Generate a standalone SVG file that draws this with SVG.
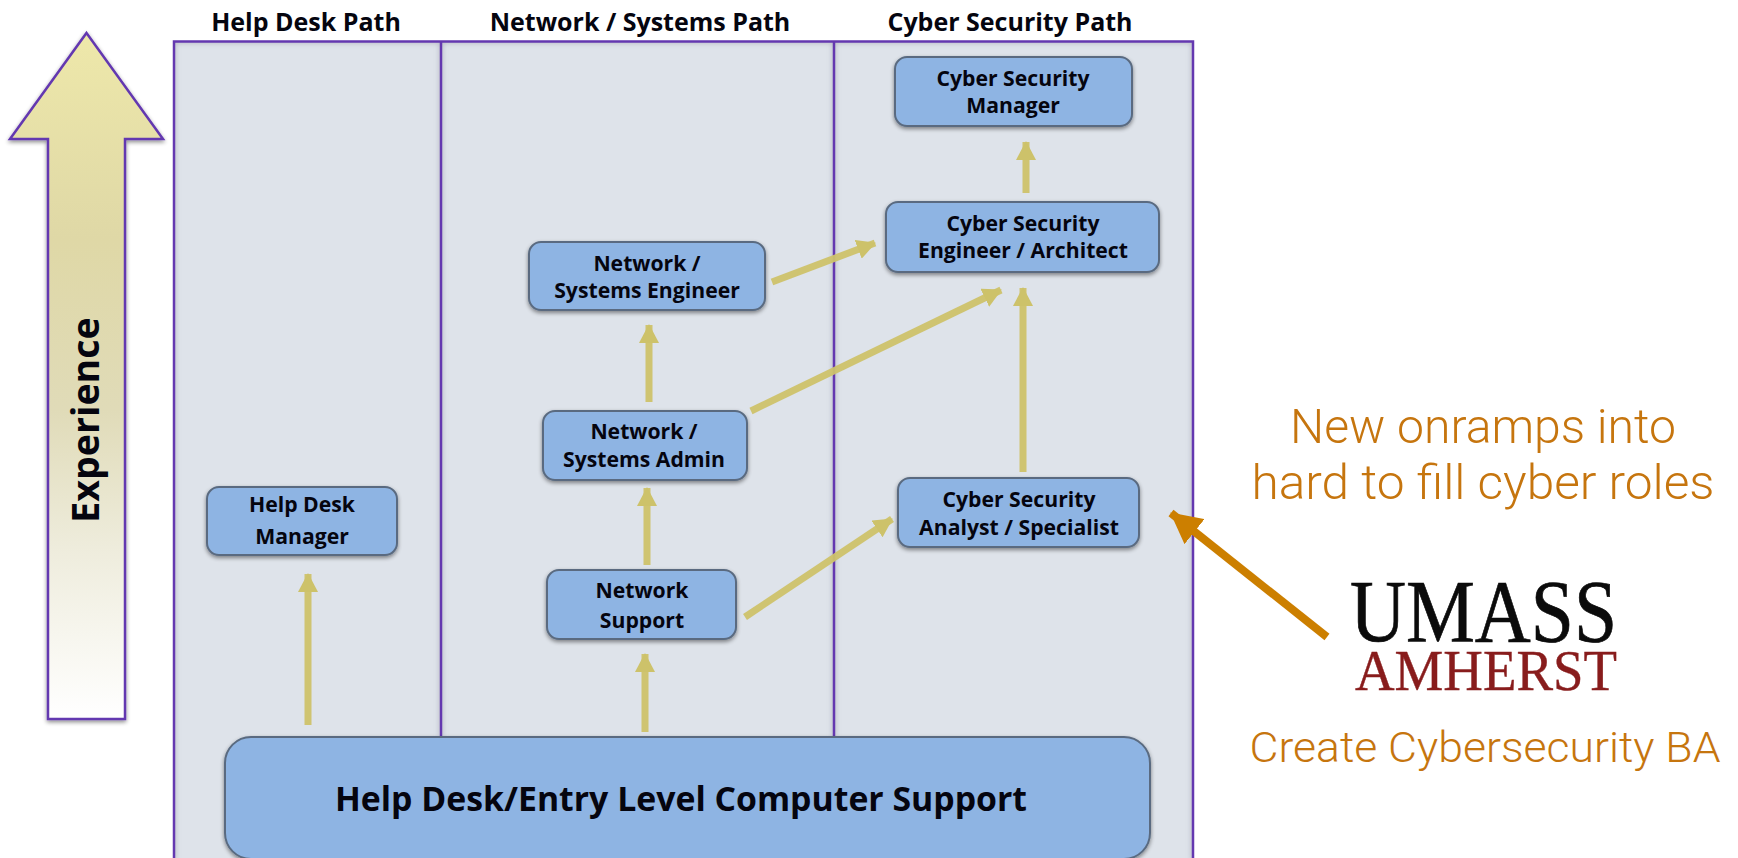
<svg xmlns="http://www.w3.org/2000/svg" width="1738" height="858" viewBox="0 0 1738 858">
<defs>
<linearGradient id="exp" x1="0" y1="0" x2="0" y2="1"><stop offset="0" stop-color="#eee8aa"/><stop offset="0.3" stop-color="#dfd8a6"/><stop offset="0.55" stop-color="#e0dbb8"/><stop offset="0.75" stop-color="#eeecdc"/><stop offset="1" stop-color="#ffffff"/></linearGradient>
<filter id="sh" x="-10%" y="-10%" width="120%" height="125%"><feGaussianBlur in="SourceAlpha" stdDeviation="2"/><feOffset dy="2"/><feComponentTransfer><feFuncA type="linear" slope="0.45"/></feComponentTransfer><feMerge><feMergeNode/><feMergeNode in="SourceGraphic"/></feMerge></filter>
<filter id="bl" x="-5%" y="-5%" width="110%" height="110%"><feGaussianBlur stdDeviation="2.500"/></filter>
<clipPath id="pc"><rect x="174" y="41" width="1019" height="830"/></clipPath>
<marker id="ah" markerUnits="userSpaceOnUse" markerWidth="20" markerHeight="20" refX="18" refY="10" orient="auto"><path d="M0 0L19 10L0 20Z" fill="#cdc26a"/></marker>
<marker id="oh" markerUnits="userSpaceOnUse" markerWidth="32" markerHeight="32" refX="30" refY="16" orient="auto"><path d="M0 0L31 16L0 32Z" fill="#cc7f00"/></marker>
<style>
.n{fill:#8eb4e3;stroke:#5a6b80;stroke-width:2;filter:url(#sh)}
.t{font-family:"Open Sans","Noto Sans",sans-serif;font-weight:700;font-size:21.2px;text-anchor:middle;fill:#05050f}
.h{font-size:25px}
.c{fill:none;stroke:#cdc26a;stroke-width:7;marker-end:url(#ah);stroke-opacity:.95}
.o{font-family:Roboto,"Liberation Sans",sans-serif;font-weight:300;font-size:48px;text-anchor:middle;fill:#c6750e}
.d{stroke:#6438b0;stroke-width:2.500;fill:none}
</style>
</defs>
<g id="panel">
<rect x="174" y="41" width="1019" height="830" fill="#dee3ea"/>
<g clip-path="url(#pc)"><path d="M174 860V41.500H1193V860M441 41.500V737M834 41.500V737" fill="none" stroke="#8a8a9a" stroke-width="3" stroke-opacity=".6" filter="url(#bl)"/></g>
<path class="d" d="M174 860V41.500H1193V860M441 41.500V737M834 41.500V737"/>
</g>
<g id="experience">
<path d="M86.500 33L163 139H125V719H48V139H10Z" fill="url(#exp)" stroke="#6438b0" stroke-width="2.500" filter="url(#sh)"/>
<text class="t" transform="translate(99,420) rotate(-90)" style="font-size:37.500px">Experience</text>
</g>
<g id="headers">
<text class="t h" x="306" y="31">Help Desk Path</text>
<text class="t h" x="640" y="31">Network / Systems Path</text>
<text class="t h" x="1010" y="31">Cyber Security Path</text>
</g>
<g id="connectors">
<path class="c" d="M308 725V574"/>
<path class="c" d="M645 732V654"/>
<path class="c" d="M647 565V488"/>
<path class="c" d="M649 402V325"/>
<path class="c" d="M772 282L875 243"/>
<path class="c" d="M751 411L1001 290"/>
<path class="c" d="M745 617L892 519"/>
<path class="c" d="M1023 472L1023 288"/>
<path class="c" d="M1026 193V142"/>
<path d="M1327 637L1171 513" fill="none" stroke="#cc7f00" stroke-width="8" marker-end="url(#oh)"/>
</g>
<g id="node-cs-manager"><rect class="n" x="895" y="57" width="237" height="69" rx="12"/><text class="t" x="1013" y="86">Cyber Security</text><text class="t" x="1013" y="113">Manager</text></g>
<g id="node-cs-engineer"><rect class="n" x="886" y="202" width="273" height="70" rx="12"/><text class="t" x="1023" y="231">Cyber Security</text><text class="t" x="1023" y="258">Engineer / Architect</text></g>
<g id="node-ns-engineer"><rect class="n" x="529" y="242" width="236" height="68" rx="12"/><text class="t" x="647" y="271">Network /</text><text class="t" x="647" y="298">Systems Engineer</text></g>
<g id="node-ns-admin"><rect class="n" x="543" y="411" width="204" height="69" rx="12"/><text class="t" x="644" y="439">Network /</text><text class="t" x="644" y="467">Systems Admin</text></g>
<g id="node-network-support"><rect class="n" x="547" y="570" width="189" height="69" rx="12"/><text class="t" x="642" y="598">Network</text><text class="t" x="642" y="628">Support</text></g>
<g id="node-hd-manager"><rect class="n" x="207" y="487" width="190" height="68" rx="12"/><text class="t" x="302" y="512">Help Desk</text><text class="t" x="302" y="544">Manager</text></g>
<g id="node-cs-analyst"><rect class="n" x="898" y="478" width="241" height="69" rx="12"/><text class="t" x="1019" y="507">Cyber Security</text><text class="t" x="1019" y="535">Analyst / Specialist</text></g>
<g id="node-entry"><rect class="n" x="225" y="737" width="925" height="122" rx="26"/><text class="t" x="681" y="811" style="font-size:33.800px">Help Desk/Entry Level Computer Support</text></g>
<g id="notes">
<text class="o" x="1483" y="443" textLength="386" lengthAdjust="spacingAndGlyphs">New onramps into</text>
<text class="o" x="1483" y="499" textLength="463" lengthAdjust="spacingAndGlyphs">hard to fill cyber roles</text>
<text class="o" x="1485" y="762" style="font-size:42px" textLength="471" lengthAdjust="spacingAndGlyphs">Create Cybersecurity BA</text>
</g>
<g id="logo">
<text x="1350" y="641" font-family="Liberation Serif,serif" font-size="88" textLength="267" lengthAdjust="spacingAndGlyphs" fill="#0b0b0b" stroke="#0b0b0b" stroke-width=".7">UMASS</text>
<text x="1355" y="690" font-family="Liberation Serif,serif" font-size="58" textLength="262" lengthAdjust="spacingAndGlyphs" fill="#881c1c" stroke="#881c1c" stroke-width=".4">AMHERST</text>
</g>
</svg>
